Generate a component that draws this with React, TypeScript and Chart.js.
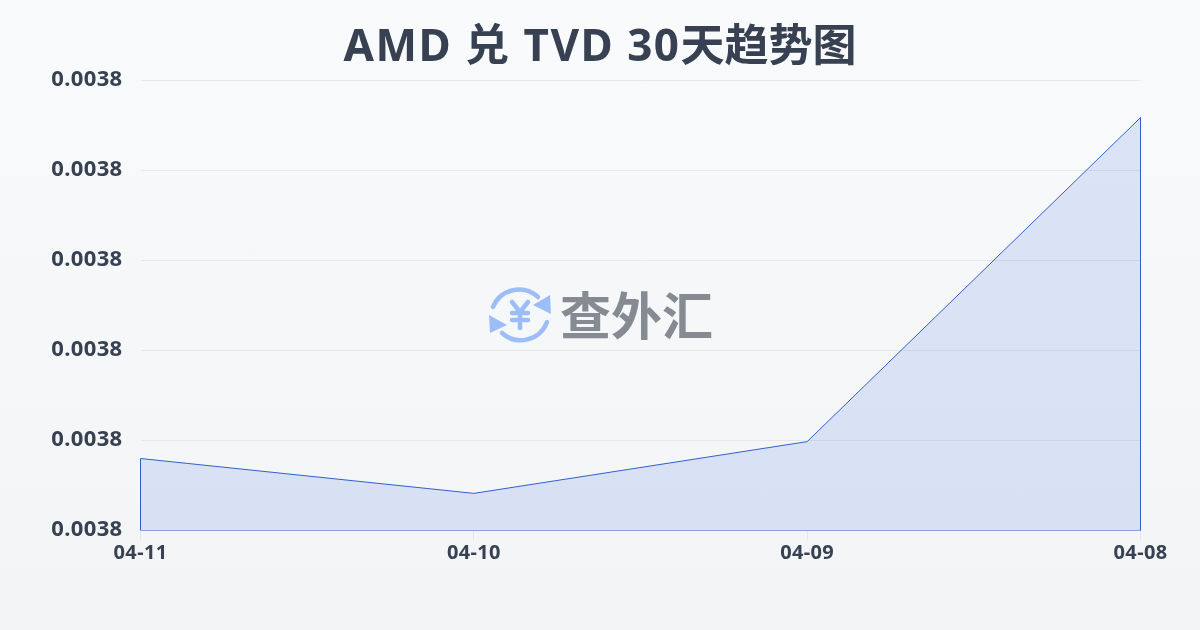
import { Chart, registerables } from "chart.js";
import { useEffect, useRef } from "react";

Chart.register(...registerables);

const titleLatin = "AMD 兑 TVD 30";
const titleCjk = "天趋势图";
const dates = ["04-11", "04-10", "04-09", "04-08"];
const rates = [0.0037728, 0.0037666, 0.0037758, 0.0038334];
const yMin = 0.00376;
const yMax = 0.00384;
const yStep = 0.000016;

const fontFamily = '"Noto Sans", "Noto Sans CJK SC", sans-serif';
const textColor = "#374151";
const lineColor = "#2f5fc9";

const outline = [
  { x: dates[0], y: yMin },
  ...dates.map((d, i) => ({ x: d, y: rates[i] })),
  { x: dates[3], y: yMin },
  { x: dates[0], y: yMin },
];

// tick labels in the reference run slightly wider than canvas text
const tickSpacing = {
  id: "tickSpacing",
  beforeDraw: (chart: any) => {
    chart.ctx.letterSpacing = "0.35px";
  },
};

const Logo = () => (
  <svg width="80" height="80" viewBox="480 276 80 80" style={{ position: "absolute", left: 480, top: 276 }}>
    <g fill="none" stroke="#9dbdf8" strokeWidth="4.5" strokeLinecap="round" strokeLinejoin="round">
      <path d="M493 307 A28 28 0 0 1 538 297" />
      <path d="M547 322 A28 28 0 0 1 502 333" />
      <path d="M512 302 L520 312 L528 302 M520 312 L520 328 M512 313 L528 313 M512 320 L528 320" />
    </g>
    <path d="M550 295 L551 314 L533 305 Z" fill="#9dbdf8" />
    <path d="M489 315 L490 333 L507 325 Z" fill="#9dbdf8" />
  </svg>
);

const App = () => {
  const chartRef = useRef<any>();

  useEffect(() => {
    const config: any = {
      type: "line",
      data: {
        labels: dates,
        datasets: [
          {
            data: rates,
            fill: "start",
            backgroundColor: "rgba(59, 110, 225, 0.15)",
            borderWidth: 0,
            pointRadius: 0,
            tension: 0,
          },
          {
            data: outline,
            fill: false,
            borderColor: lineColor,
            borderWidth: 1,
            pointRadius: 0,
            tension: 0,
          },
        ],
      },
      plugins: [tickSpacing],
      options: {
        animation: false,
        responsive: false,
        layout: { padding: { top: 80.5, right: 59.5 } },
        plugins: {
          legend: { display: false },
          tooltip: { enabled: false },
        },
        scales: {
          x: {
            offset: false,
            border: { display: false },
            grid: { color: "#e5e7eb", drawOnChartArea: false, drawTicks: true, tickLength: 10 },
            afterFit: (axis: any) => {
              axis.height = 99.5;
            },
            ticks: {
              color: textColor,
              padding: 1,
              maxRotation: 0,
              autoSkip: false,
              font: { family: fontFamily, size: 20, weight: "bold" },
            },
          },
          y: {
            min: yMin,
            max: yMax,
            border: { display: false },
            grid: { color: "#e5e7eb", lineWidth: 1, drawTicks: false },
            afterFit: (axis: any) => {
              axis.width = 140.5;
            },
            ticks: {
              stepSize: yStep,
              color: textColor,
              padding: 18,
              labelOffset: -1,
              font: { family: fontFamily, size: 22, weight: "bold" },
              callback: (v: any) => Number(v).toFixed(4),
            },
          },
        },
      },
    };
    const chart = new Chart(chartRef.current, config);
    return () => {
      chart.destroy();
    };
  }, []);

  return (
    <div
      style={{
        position: "absolute",
        left: 0,
        top: 0,
        width: 1200,
        height: 630,
        overflow: "hidden",
        background: "linear-gradient(180deg, #f8fafc 0%, #f3f4f6 100%)",
      }}
    >
      <canvas ref={chartRef} width={1200} height={630} style={{ display: "block" }} />
      <div
        style={{
          position: "absolute",
          left: 0,
          top: 14,
          width: 1200,
          textAlign: "center",
          fontFamily,
          fontWeight: 700,
          fontSize: 44,
          lineHeight: "60px",
          color: textColor,
          whiteSpace: "nowrap",
        }}
      >
        <span style={{ letterSpacing: "1.5px" }}>{titleLatin}</span>
        <span>{titleCjk}</span>
      </div>
      <Logo />
      <div
        style={{
          position: "absolute",
          left: 560,
          top: 277,
          fontFamily: '"Noto Sans CJK SC", sans-serif',
          fontWeight: 700,
          fontSize: 51,
          lineHeight: "72px",
          color: "#868b93",
          whiteSpace: "nowrap",
        }}
      >
        查外汇
      </div>
    </div>
  );
};

export default App;
